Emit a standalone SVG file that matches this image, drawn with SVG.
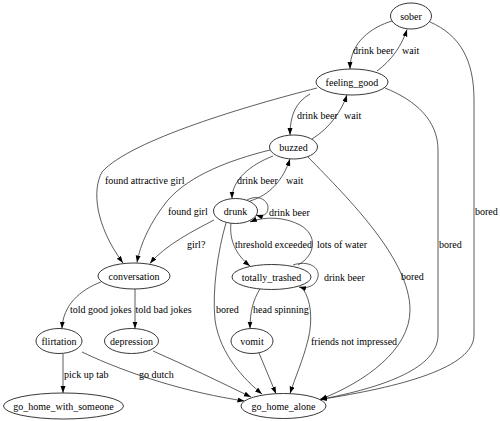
<svg xmlns="http://www.w3.org/2000/svg" width="500" height="421" viewBox="0 0 500 421">
<style>
.n ellipse{fill:#fff;stroke:#222;stroke-width:0.9}
text{font-family:"Liberation Serif","Times New Roman",serif;font-size:10px;fill:#000}
.n text{text-anchor:middle}
.e path{fill:none;stroke:#333;stroke-width:0.8;marker-end:url(#ah)}
</style>
<defs>
<marker id="ah" markerUnits="userSpaceOnUse" markerWidth="8" markerHeight="6" refX="7" refY="2.5" orient="auto">
<path d="M0,0 L7,2.5 L0,5 z" fill="#000"/>
</marker>
</defs>
<rect width="500" height="421" fill="#fff"/>
<g id="connectors" class="e">
<path d="M392,21 C372,27 350,42 350,69"/>
<path d="M377,71 C392,60 402,45 407,29.5"/>
<path d="M430,22 C460,35 474,60 474,100 L474,335 C474,368 400,387 320,399.5"/>
<path d="M310,94 C296,102 290,115 290,135"/>
<path d="M312,139 C330,128 342,110 347,95"/>
<path d="M385,88 C415,100 438,120 438,150 L438,335 C438,368 385,387 320,399.5"/>
<path d="M308,157 C350,200 410,260 410,310 C410,350 365,382 320,399.5"/>
<path d="M317,88 C250,105 130,140 102,172 C92,190 95,225 123,263"/>
<path d="M270,150 C230,160 190,175 168,200 C150,222 140,245 137,262.5"/>
<path d="M273,156 C250,165 232,180 232,198.5"/>
<path d="M250,201 C270,195 283,180 290,159"/>
<path d="M247,200 C258,194 268,200 268,208 C268,215 262,217 256,215"/>
<path d="M214,220 C195,230 165,245 150,263.5"/>
<path d="M231,223 C229,240 236,255 250,266"/>
<path d="M298,265 C316,255 318,235 300,225 C285,217 265,216 250,222"/>
<path d="M226,223 C218,250 212,290 215,320 C220,355 245,380 262,394"/>
<path d="M293,265 C308,260 320,267 318,277 C316,286 307,289 299,287"/>
<path d="M260,289 C253,300 250,312 250,328.5"/>
<path d="M303,289 C311,300 313,320 308,340 C303,360 295,378 290,393.5"/>
<path d="M259,353 L276,393.8"/>
<path d="M101,282 C80,290 63,305 62,328.6"/>
<path d="M135,289 L135,328.6"/>
<path d="M63,353.5 L63,393"/>
<path d="M82,352 C130,375 190,393 244.5,401"/>
<path d="M153,351 C185,365 220,382 251,397"/>
</g>
<g id="labels">
<text x="353" y="53.5">drink beer</text>
<text x="402" y="53.5">wait</text>
<text x="475" y="215">bored</text>
<text x="297" y="118.5">drink beer</text>
<text x="344" y="118.5">wait</text>
<text x="439" y="247.5">bored</text>
<text x="401" y="280">bored</text>
<text x="105" y="183.5">found attractive girl</text>
<text x="168" y="214.5">found girl</text>
<text x="237" y="183.5">drink beer</text>
<text x="286" y="183.5">wait</text>
<text x="269" y="215.5">drink beer</text>
<text x="187" y="247.5">girl?</text>
<text x="235" y="247.5">threshold exceeded</text>
<text x="317" y="247.5">lots of water</text>
<text x="216" y="312.5">bored</text>
<text x="324" y="280.5">drink beer</text>
<text x="253" y="312.5">head spinning</text>
<text x="311" y="344.5">friends not impressed</text>
<text x="70" y="312.5">told good jokes</text>
<text x="135.5" y="312.5">told bad jokes</text>
<text x="64" y="377.5">pick up tab</text>
<text x="139" y="377.5">go dutch</text>
</g>
<g id="sober" class="n"><ellipse cx="411" cy="16" rx="20.5" ry="13"/><text x="411" y="19.5">sober</text></g>
<g id="feeling_good" class="n"><ellipse cx="352" cy="82" rx="36" ry="13"/><text x="352" y="85.5">feeling_good</text></g>
<g id="buzzed" class="n"><ellipse cx="293.5" cy="147" rx="24" ry="12"/><text x="293.5" y="150.5">buzzed</text></g>
<g id="drunk" class="n"><ellipse cx="235.5" cy="211" rx="22" ry="12.5"/><text x="235.5" y="214.5">drunk</text></g>
<g id="conversation" class="n"><ellipse cx="134" cy="276" rx="36" ry="13"/><text x="134" y="279.5">conversation</text></g>
<g id="totally_trashed" class="n"><ellipse cx="271.5" cy="277" rx="39.5" ry="12.5"/><text x="271.5" y="280.5">totally_trashed</text></g>
<g id="flirtation" class="n"><ellipse cx="59" cy="341" rx="23" ry="12.5"/><text x="59" y="344.5">flirtation</text></g>
<g id="depression" class="n"><ellipse cx="131.5" cy="341" rx="27" ry="12.5"/><text x="131.5" y="344.5">depression</text></g>
<g id="vomit" class="n"><ellipse cx="252" cy="341" rx="21" ry="12.5"/><text x="252" y="344.5">vomit</text></g>
<g id="go_home_with_someone" class="n"><ellipse cx="63.5" cy="406" rx="60" ry="13"/><text x="63.5" y="409.5">go_home_with_someone</text></g>
<g id="go_home_alone" class="n"><ellipse cx="283.5" cy="406" rx="42.5" ry="12.5"/><text x="283.5" y="409.5">go_home_alone</text></g>
</svg>
